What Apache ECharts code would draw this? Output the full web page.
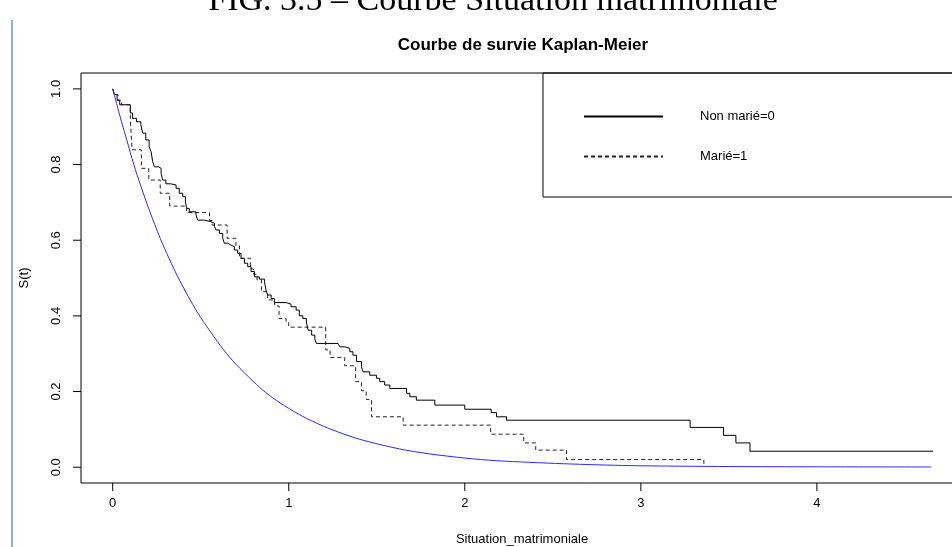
<!DOCTYPE html>
<html>
<head>
<meta charset="utf-8">
<script src="https://cdn.jsdelivr.net/npm/echarts@6/dist/echarts.min.js"></script>
<style>
  html, body { margin: 0; padding: 0; background: #fff; }
  #chart { width: 952px; height: 547px; }
</style>
</head>
<body>
<div id="chart"></div>
<script>
// tick values
var xTicks = [0, 1, 2, 3, 4];
var yTicks = [0, 0.2, 0.4, 0.6, 0.8, 1.0];

// Kaplan-Meier, Non marié=0 (time, survival)
var nonMarieT = [0, 0.01, 0.025, 0.04, 0.1, 0.113, 0.135, 0.16, 0.17, 0.188, 0.207, 0.218, 0.227, 0.237, 0.26, 0.275, 0.284, 0.302, 0.33, 0.36, 0.378, 0.398, 0.413, 0.42, 0.435, 0.473, 0.483, 0.52, 0.558, 0.578, 0.587, 0.606, 0.625, 0.634, 0.653, 0.672, 0.691, 0.71, 0.729, 0.748, 0.767, 0.786, 0.805, 0.833, 0.862, 0.871, 0.88, 0.9, 0.918, 0.985, 1.013, 1.042, 1.06, 1.08, 1.1, 1.11, 1.13, 1.148, 1.157, 1.28, 1.29, 1.318, 1.347, 1.365, 1.385, 1.413, 1.422, 1.46, 1.498, 1.517, 1.545, 1.574, 1.669, 1.688, 1.725, 1.83, 2.0, 2.15, 2.18, 2.237, 3.28, 3.47, 3.54, 3.62, 4.66];
var nonMarieS = [1.0, 0.985, 0.97, 0.958, 0.936, 0.922, 0.913, 0.905, 0.883, 0.865, 0.847, 0.834, 0.808, 0.794, 0.79, 0.777, 0.759, 0.749, 0.746, 0.737, 0.724, 0.715, 0.702, 0.684, 0.675, 0.667, 0.653, 0.649, 0.645, 0.636, 0.627, 0.618, 0.605, 0.592, 0.587, 0.583, 0.574, 0.565, 0.552, 0.539, 0.53, 0.517, 0.503, 0.497, 0.49, 0.468, 0.455, 0.446, 0.435, 0.431, 0.424, 0.415, 0.4, 0.393, 0.384, 0.362, 0.349, 0.338, 0.327, 0.323, 0.318, 0.314, 0.305, 0.296, 0.279, 0.265, 0.252, 0.243, 0.235, 0.226, 0.217, 0.208, 0.195, 0.186, 0.177, 0.164, 0.153, 0.144, 0.133, 0.124, 0.105, 0.084, 0.064, 0.042, 0.042];

// Kaplan-Meier, Marié=1
var marieT = [0, 0.01, 0.03, 0.05, 0.1, 0.11, 0.163, 0.205, 0.27, 0.324, 0.42, 0.55, 0.565, 0.65, 0.7, 0.72, 0.782, 0.8, 0.82, 0.845, 0.88, 0.92, 0.945, 0.985, 1.0, 1.21, 1.235, 1.318, 1.38, 1.413, 1.44, 1.47, 1.65, 2.147, 2.335, 2.403, 2.578, 3.358];
var marieS = [1.0, 0.985, 0.97, 0.958, 0.92, 0.839, 0.79, 0.759, 0.724, 0.69, 0.673, 0.652, 0.64, 0.605, 0.585, 0.552, 0.524, 0.51, 0.495, 0.464, 0.442, 0.426, 0.393, 0.382, 0.37, 0.31, 0.29, 0.268, 0.226, 0.202, 0.179, 0.133, 0.111, 0.087, 0.064, 0.045, 0.02, 0.0];

// fitted curve (blue)
var fitT = [0, 0.04, 0.08, 0.12, 0.16, 0.21, 0.27, 0.32, 0.38, 0.48, 0.56, 0.63, 0.7, 0.8, 0.87, 0.95, 1.06, 1.15, 1.24, 1.4, 1.63, 1.8, 2.0, 2.18, 2.56, 2.94, 3.5, 4.0, 4.65];
var fitS = [1.0, 0.93, 0.865, 0.8, 0.743, 0.677, 0.605, 0.552, 0.494, 0.41, 0.355, 0.31, 0.272, 0.226, 0.197, 0.17, 0.139, 0.118, 0.1, 0.074, 0.048, 0.035, 0.024, 0.017, 0.009, 0.004, 0.0015, 0.0008, 0.0003];

function pairs(t, s) {
    var out = [];
    for (var i = 0; i < t.length; i++) out.push([t[i], s[i]]);
    return out;
}

var font = 'Liberation Sans';
var txt = { fontFamily: font, fontSize: 13, color: '#000' };
var chart = echarts.init(document.getElementById('chart'));

// short tick line through the library's own scale
function xTickItem(params, api) {
    var a = api.coord([api.value(0), 1]);
    var b = api.coord([api.value(0), 0]);
    return { type: 'line', shape: { x1: a[0], y1: a[1], x2: b[0], y2: b[1] }, style: { stroke: '#000', lineWidth: 1 } };
}
function yTickItem(params, api) {
    var a = api.coord([0, api.value(0)]);
    var b = api.coord([1, api.value(0)]);
    return { type: 'line', shape: { x1: a[0], y1: a[1], x2: b[0], y2: b[1] }, style: { stroke: '#000', lineWidth: 1 } };
}

// plot box: x -0.18..4.83 over 882px, y -0.042..1.042 over 410px
// grid 1 and 2 are 8px strips outside the box on the same pixel scale (0..4 and 0..1)
chart.setOption({
    animation: false,
    backgroundColor: '#fff',
    grid: [
        { left: 81, top: 73, width: 882, height: 410, show: true, borderColor: '#000', borderWidth: 1, outerBoundsMode: 'none' },
        { left: 112.7, top: 483, width: 704.2, height: 8, outerBoundsMode: 'none' },
        { left: 73, top: 88.9, width: 8, height: 378.3, outerBoundsMode: 'none' }
    ],
    xAxis: [
        {
            gridIndex: 0, type: 'value', min: -0.18, max: 4.83,
            name: 'Situation_matrimoniale', nameLocation: 'middle', nameGap: 50,
            nameTextStyle: txt,
            axisLine: { show: false }, axisTick: { show: false }, axisLabel: { show: false },
            splitLine: { show: false }
        },
        {
            gridIndex: 1, type: 'value', min: 0, max: 4, interval: 1,
            axisLine: { show: false }, axisTick: { show: false },
            axisLabel: Object.assign({ margin: 6 }, txt),
            splitLine: { show: false }
        },
        {
            gridIndex: 2, type: 'value', min: 0, max: 1, show: false
        }
    ],
    yAxis: [
        {
            gridIndex: 0, type: 'value', min: -0.042, max: 1.042,
            name: 'S(t)', nameLocation: 'middle', nameGap: 50, nameRotate: 90,
            nameTextStyle: txt,
            axisLine: { show: false }, axisTick: { show: false }, axisLabel: { show: false },
            splitLine: { show: false }
        },
        {
            gridIndex: 1, type: 'value', min: 0, max: 1, show: false
        },
        {
            gridIndex: 2, type: 'value', min: 0, max: 1, interval: 0.2,
            axisLine: { show: false }, axisTick: { show: false },
            axisLabel: Object.assign({
                rotate: 90, margin: 10,
                formatter: function (v) { return v.toFixed(1); }
            }, txt),
            splitLine: { show: false }
        }
    ],
    legend: {
        data: ['Non marié=0', 'Marié=1'],
        orient: 'vertical', left: 583, top: 110, padding: 0,
        itemWidth: 79, itemHeight: 14, itemGap: 27,
        itemStyle: { opacity: 0 },
        textStyle: Object.assign({ padding: [0, 0, 0, 32] }, txt)
    },
    graphic: [
        {
            type: 'rect', shape: { x: 543, y: 73, width: 460, height: 124 },
            style: { fill: 'none', stroke: '#000', lineWidth: 1 }, z: 10
        },
        {
            type: 'text', style: {
                x: 523, y: 45, text: 'Courbe de survie Kaplan-Meier', textAlign: 'center', textVerticalAlign: 'middle',
                font: 'bold 17px "Liberation Sans"', fill: '#000'
            }
        },
        {
            type: 'text', style: {
                x: 493, y: 18, text: 'FIG. 3.5 – Courbe Situation matrimoniale', textAlign: 'center', textVerticalAlign: 'bottom',
                font: '34px "Liberation Serif"', fill: '#000'
            }
        },
        {
            type: 'line', shape: { x1: 12, y1: 20, x2: 12, y2: 547 },
            style: { stroke: '#5b9bd5', lineWidth: 1.5 }
        }
    ],
    series: [
        {
            name: 'Non marié=0', type: 'line', step: 'end', showSymbol: false, symbol: 'none',
            data: pairs(nonMarieT, nonMarieS),
            lineStyle: { color: '#000', width: 1 }, itemStyle: { color: '#000' }
        },
        {
            name: 'Marié=1', type: 'line', step: 'end', showSymbol: false, symbol: 'none',
            data: pairs(marieT, marieS),
            lineStyle: { color: '#222', width: 1, type: [4, 3] }, itemStyle: { color: '#222' }
        },
        {
            name: 'fit', type: 'line', smooth: 0.3, showSymbol: false, symbol: 'none',
            data: pairs(fitT, fitS),
            lineStyle: { color: '#2a2aff', width: 1 }
        },
        {
            name: 'xticks', type: 'custom', xAxisIndex: 1, yAxisIndex: 1,
            renderItem: xTickItem, data: xTicks.map(function (v) { return [v]; }),
            encode: { x: 0 }, silent: true
        },
        {
            name: 'yticks', type: 'custom', xAxisIndex: 2, yAxisIndex: 2,
            renderItem: yTickItem, data: yTicks.map(function (v) { return [v]; }),
            encode: { y: 0 }, silent: true
        }
    ]
});
</script>
</body>
</html>
